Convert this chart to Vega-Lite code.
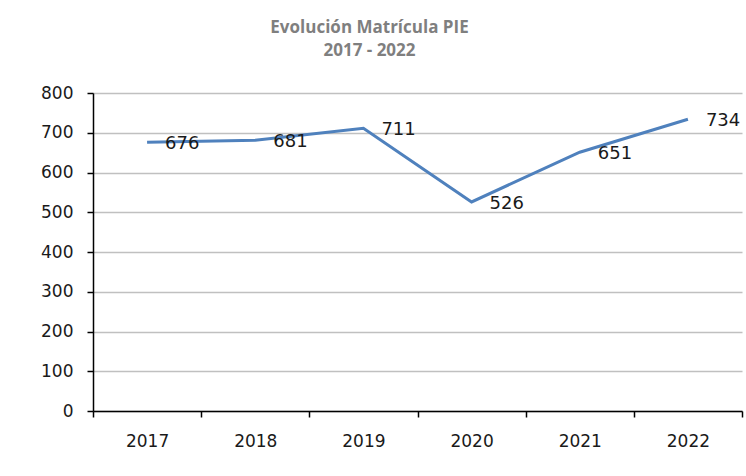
{
  "$schema": "https://vega.github.io/schema/vega-lite/v6.json",
  "autosize": "none",
  "width": 649,
  "height": 318,
  "padding": {"left": 93, "top": 93, "right": 4, "bottom": 65},
  "background": "white",
  "title": {
    "text": ["Evolución Matrícula PIE", "2017 - 2022"],
    "font": "Liberation Sans Narrow, Open Sans, sans-serif",
    "fontSize": 17,
    "fontWeight": "bold",
    "color": "#7F7F7F",
    "lineHeight": 23,
    "anchor": "middle",
    "dx": -48,
    "offset": 24
  },
  "data": {
    "values": [
      {"year": "2017", "value": 676},
      {"year": "2018", "value": 681},
      {"year": "2019", "value": 711},
      {"year": "2020", "value": 526},
      {"year": "2021", "value": 651},
      {"year": "2022", "value": 734}
    ]
  },
  "encoding": {
    "x": {
      "field": "year",
      "type": "ordinal",
      "bandPosition": 0.5,
      "scale": {"type": "band", "paddingInner": 0, "paddingOuter": 0},
      "axis": {
        "title": null,
        "labelAngle": 0,
        "tickBand": "extent",
        "grid": false,
        "domainColor": "#000000",
        "domainWidth": 1.5,
        "tickColor": "#000000",
        "tickWidth": 1.5,
        "tickSize": 6,
        "labelPadding": 16,
        "labelFont": "DejaVu Sans, Verdana, sans-serif",
        "labelFontSize": 17,
        "labelColor": "#1a1a1a"
      }
    },
    "y": {
      "field": "value",
      "type": "quantitative",
      "scale": {"domain": [0, 800], "nice": false},
      "axis": {
        "title": null,
        "values": [0, 100, 200, 300, 400, 500, 600, 700, 800],
        "grid": true,
        "gridColor": "#C0C0C0",
        "gridWidth": 1.5,
        "domainColor": "#000000",
        "domainWidth": 1.5,
        "tickColor": "#000000",
        "tickWidth": 1.5,
        "tickSize": 6,
        "labelPadding": 14,
        "labelFont": "DejaVu Sans, Verdana, sans-serif",
        "labelFontSize": 17,
        "labelColor": "#1a1a1a"
      }
    }
  },
  "layer": [
    {
      "mark": {"type": "line", "color": "#4F81BD", "strokeWidth": 3, "clip": false}
    },
    {
      "mark": {
        "type": "text",
        "align": "left",
        "baseline": "middle",
        "dx": 18,
        "dy": 2,
        "font": "DejaVu Sans, Verdana, sans-serif",
        "fontSize": 18,
        "color": "#1a1a1a"
      },
      "encoding": {"text": {"field": "value", "type": "quantitative"}}
    }
  ],
  "config": {"view": {"stroke": null}}
}
